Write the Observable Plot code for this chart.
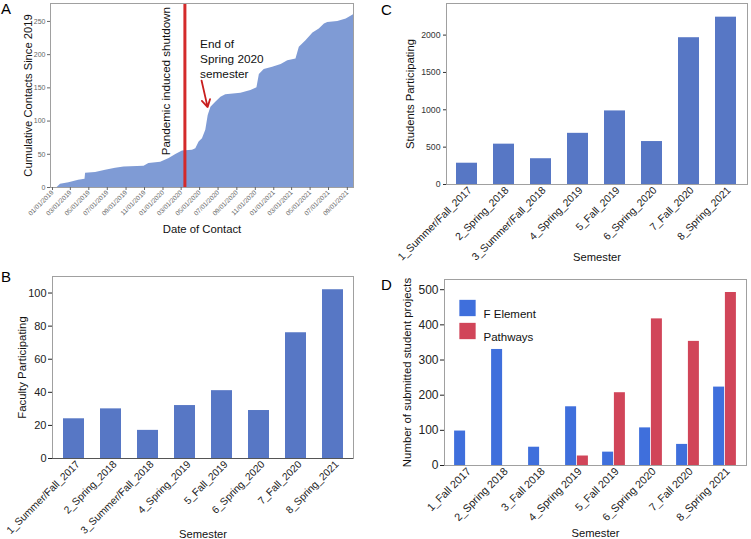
<!DOCTYPE html>
<html>
<head>
<meta charset="utf-8">
<script src="https://cdn.jsdelivr.net/npm/d3@7"></script>
<script src="https://cdn.jsdelivr.net/npm/@observablehq/plot@0.6"></script>
<style>
  html, body { margin: 0; padding: 0; background: #fff; }
  #wrap { position: relative; width: 751px; height: 539px; overflow: hidden; background: #fff; }
  .panel { position: absolute; }
  #letters { position: absolute; left: 0; top: 0; pointer-events: none; }
</style>
</head>
<body>
<div id="wrap">
  <div class="panel" id="pA" style="left:0px;top:0px"></div>
  <div class="panel" id="pB" style="left:0px;top:262px"></div>
  <div class="panel" id="pC" style="left:375px;top:0px"></div>
  <div class="panel" id="pD" style="left:375px;top:265px"></div>
  <svg id="letters" width="751" height="539" font-family="Liberation Sans, Arial, sans-serif" font-size="15">
    <text x="1" y="13.5">A</text>
    <text x="1" y="282">B</text>
    <text x="381" y="15">C</text>
    <text x="381" y="290">D</text>
  </svg>
</div>
<script>
// ---------- Panel A data ----------
const contactDates = ["2019-01-23","2019-02-03","2019-03-03","2019-04-04","2019-04-25","2019-04-27","2019-05-30","2019-07-02","2019-08-04","2019-09-01","2019-11-06","2019-11-22","2019-12-31","2020-01-28","2020-02-19","2020-03-12","2020-04-14","2020-04-25","2020-05-06","2020-05-17","2020-05-28","2020-06-05","2020-06-14","2020-06-30","2020-07-17","2020-08-02","2020-09-21","2020-10-24","2020-11-13","2020-11-21","2020-12-07","2021-01-04","2021-02-01","2021-02-23","2021-03-22","2021-04-02","2021-04-24","2021-05-17","2021-06-07","2021-06-24","2021-07-05","2021-08-07","2021-09-04","2021-09-28"];
const contactTotals = [0,5,7,11,12.5,21.5,22.5,26,29,31,32,36,38,43.5,49.5,55,56,58.5,68.5,73.5,86,108.5,121,128.5,136,139.5,142,146,150,170,177.5,181,185,191,193.5,211,221,232.5,238.5,246,248.5,250,253.5,260];
const dateTicks = ["2019-01-01","2019-03-01","2019-05-01","2019-07-01","2019-09-01","2019-11-01","2020-01-01","2020-03-01","2020-05-01","2020-07-01","2020-09-01","2020-11-01","2021-01-01","2021-03-01","2021-05-01","2021-07-01","2021-09-01"];
const contactTicks = [0, 50, 100, 150, 200, 250];
const shutdownDate = ["2020-03-20"];
const shutdownNote = [{date: "2020-01-18", value: 160, text: "Pandemic induced shutdown"}];
const semesterNote = [{date: "2020-05-09", value: 194, text: "End of\nSpring 2020\nsemester"}];
const semesterArrow = [{from: "2020-05-14", fromValue: 161, to: "2020-06-03", toValue: 121}];

// ---------- Panels B & C data ----------
const semesters = ["1_Summer/Fall_2017","2_Spring_2018","3_Summer/Fall_2018","4_Spring_2019","5_Fall_2019","6_Spring_2020","7_Fall_2020","8_Spring_2021"];
const facultyCounts = [24, 30, 17, 32, 41, 29, 76, 102];
const facultyTicks = [0, 20, 40, 60, 80, 100];
const studentCounts = [285, 540, 345, 685, 985, 575, 1965, 2240];
const studentTicks = [0, 500, 1000, 1500, 2000];

// ---------- Panel D data ----------
const projectSemesters = ["1_Fall 2017","2_Spring 2018","3_Fall 2018","4_Spring 2019","5_Fall 2019","6_Spring 2020","7_Fall 2020","8_Spring 2021"];
const seriesNames = ["F Element", "Pathways"];
const fElementProjects = [98, 330, 52, 167, 38, 107, 60, 223];
const pathwaysProjects = [0, 0, 0, 27, 207, 417, 353, 492];
const projectTicks = [0, 100, 200, 300, 400, 500];

// ---------- styling ----------
const FONT = "Liberation Sans, Arial, Helvetica, sans-serif";
const barBlue = "#5777c5";
const areaBlue = "#7f9bd5";
const dBlue = "#3f6fdc";
const dRed = "#d14559";
const frameGray = "#a0a0a0";
const baseStyle = {fontFamily: FONT, fontSize: "11px", color: "#222", background: "transparent", overflow: "visible"};
const plain = d => String(d);

const utc = s => new Date(s);

// ---------- Panel A ----------
const contacts = contactDates.map((d, i) => ({date: utc(d), total: contactTotals[i]}));
const plotA = Plot.plot({
  width: 375, height: 240,
  marginLeft: 50, marginRight: 22, marginTop: 3, marginBottom: 53,
  style: baseStyle,
  x: {type: "utc", domain: [utc("2019-01-01"), utc("2021-09-28")]},
  y: {domain: [0, 277]},
  marks: [
    Plot.areaY(contacts, {x: "date", y: "total", fill: areaBlue}),
    Plot.ruleX(shutdownDate, {x: d => utc(d), stroke: "#d42a2a", strokeWidth: 3}),
    Plot.frame({stroke: frameGray}),
    Plot.axisX({ticks: dateTicks.map(utc), tickFormat: d3.utcFormat("%m/%d/%Y"), tickRotate: -45, tickSize: 3, tickPadding: 1, fontSize: 6.5, color: "#666", label: null, dx: 2}),
    Plot.axisY({ticks: contactTicks, tickFormat: plain, tickSize: 3, tickPadding: 2, fontSize: 7, color: "#666", label: null}),
    Plot.text(shutdownNote, {x: d => utc(d.date), y: "value", text: "text", rotate: -90, textAnchor: "middle", fontSize: 11.6, fill: "#111"}),
    Plot.text(semesterNote, {x: d => utc(d.date), y: "value", text: "text", textAnchor: "start", fontSize: 11.8, lineHeight: 1.27, fill: "#111"}),
    Plot.arrow(semesterArrow, {x1: d => utc(d.from), y1: "fromValue", x2: d => utc(d.to), y2: "toValue", stroke: "#c81e1e", strokeWidth: 1.8, headLength: 7}),
    Plot.text(["Cumulative Contacts Since 2019"], {frameAnchor: "left", dx: -22, rotate: -90, textAnchor: "middle", fontSize: 11.2, fill: "#111"}),
    Plot.text(["Date of Contact"], {frameAnchor: "bottom", dy: 45, textAnchor: "middle", fontSize: 11.3, fill: "#111"})
  ]
});
document.getElementById("pA").append(plotA);

// ---------- Panel B ----------
const facultyData = semesters.map((s, i) => ({semester: s, count: facultyCounts[i]}));
const plotB = Plot.plot({
  width: 375, height: 277,
  marginLeft: 52, marginRight: 22, marginTop: 14, marginBottom: 81,
  style: baseStyle,
  x: {domain: semesters, paddingInner: 0.44, paddingOuter: 0.22},
  y: {domain: [0, 110]},
  marks: [
    Plot.barY(facultyData, {x: "semester", y: "count", fill: barBlue}),
    Plot.frame({stroke: frameGray}),
    Plot.ruleY([0], {stroke: "#555"}),
    Plot.axisY({ticks: facultyTicks, tickFormat: plain, tickSize: 4, tickPadding: 2, fontSize: 11, color: "#222", label: null}),
    Plot.axisX({tickRotate: -45, tickSize: 0, tickPadding: 4, fontSize: 10.3, color: "#222", label: null, dx: 4}),
    Plot.text(["Faculty Participating"], {frameAnchor: "left", dx: -30, rotate: -90, textAnchor: "middle", fontSize: 11.4, fill: "#111"}),
    Plot.text(["Semester"], {frameAnchor: "bottom", dy: 79, textAnchor: "middle", fontSize: 11.2, fill: "#111"})
  ]
});
document.getElementById("pB").append(plotB);

// ---------- Panel C ----------
const studentData = semesters.map((s, i) => ({semester: s, count: studentCounts[i]}));
const plotC = Plot.plot({
  width: 376, height: 265,
  marginLeft: 71, marginRight: 4, marginTop: 3, marginBottom: 81,
  style: baseStyle,
  x: {domain: semesters, paddingInner: 0.43, paddingOuter: 0.215},
  y: {domain: [0, 2423]},
  marks: [
    Plot.barY(studentData, {x: "semester", y: "count", fill: barBlue}),
    Plot.frame({stroke: frameGray}),
    Plot.axisY({ticks: studentTicks, tickFormat: plain, tickSize: 3, tickPadding: 3, fontSize: 8.7, color: "#333", label: null}),
    Plot.axisX({tickRotate: -45, tickSize: 0, tickPadding: 4, fontSize: 10.4, color: "#222", label: null, dx: 3}),
    Plot.text(["Students Participating"], {frameAnchor: "left", dx: -36, rotate: -90, textAnchor: "middle", fontSize: 11.3, fill: "#111"}),
    Plot.text(["Semester"], {frameAnchor: "bottom", dy: 76, textAnchor: "middle", fontSize: 11.2, fill: "#111"})
  ]
});
document.getElementById("pC").append(plotC);

// ---------- Panel D ----------
const seriesColors = [dBlue, dRed];
const projectData = projectSemesters.flatMap((s, i) => [
  {semester: s, series: seriesNames[0], count: fElementProjects[i]},
  {semester: s, series: seriesNames[1], count: pathwaysProjects[i]}
]);
const halfBar = 5.9;
const plotD = Plot.plot({
  width: 376, height: 274,
  marginLeft: 69, marginRight: 5, marginTop: 14, marginBottom: 74,
  style: baseStyle,
  x: {domain: projectSemesters, paddingInner: 0.69, paddingOuter: 0.345},
  y: {domain: [0, 529]},
  marks: [
    Plot.barY(projectData.filter(d => d.series === seriesNames[0]), {x: "semester", y: "count", fill: dBlue, dx: -halfBar}),
    Plot.barY(projectData.filter(d => d.series === seriesNames[1]), {x: "semester", y: "count", fill: dRed, dx: halfBar}),
    Plot.frame({stroke: frameGray}),
    Plot.axisY({ticks: projectTicks, tickFormat: plain, tickSize: 4, tickPadding: 2, fontSize: 12, color: "#222", label: null}),
    Plot.axisX({tickRotate: -45, tickSize: 0, tickPadding: 4, fontSize: 10.8, color: "#222", label: null, dx: 3}),
    ...seriesNames.flatMap((name, i) => [
      Plot.dot([name], {frameAnchor: "top-left", dx: 23, dy: 28.5 + 23 * i, symbol: "square", r: 9.2, fill: seriesColors[i], stroke: "none"}),
      Plot.text([name], {frameAnchor: "top-left", dx: 39, dy: 30 + 23 * i, text: d => d, textAnchor: "start", fontSize: 11.5, fill: "#111"})
    ]),
    Plot.text(["Number of submitted student projects"], {frameAnchor: "left", dx: -37, rotate: -90, textAnchor: "middle", fontSize: 11.4, fill: "#111"}),
    Plot.text(["Semester"], {frameAnchor: "bottom", dy: 71, textAnchor: "middle", fontSize: 11.2, fill: "#111"})
  ]
});
document.getElementById("pD").append(plotD);
</script>
</body>
</html>
